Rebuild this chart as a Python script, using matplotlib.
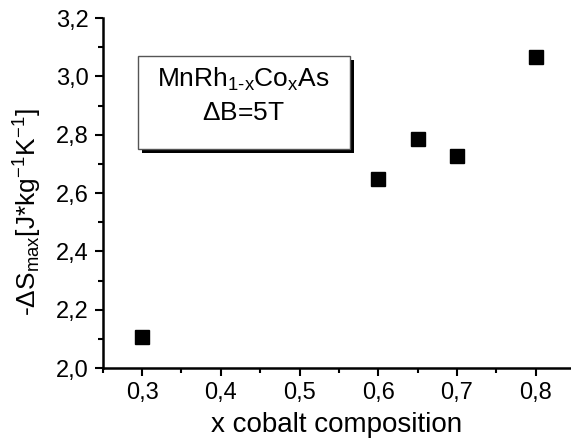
import matplotlib
matplotlib.use("Agg")
import matplotlib.pyplot as plt
from matplotlib.patches import Rectangle
from matplotlib.ticker import MultipleLocator, FuncFormatter

plt.rcParams['font.family'] = ['Liberation Sans', 'DejaVu Sans']
plt.rcParams['mathtext.fontset'] = 'custom'
plt.rcParams['mathtext.rm'] = 'Liberation Sans'
plt.rcParams['mathtext.it'] = 'Liberation Sans'
plt.rcParams['mathtext.bf'] = 'Liberation Sans'

# data
cobalt_x = [0.3, 0.6, 0.65, 0.7, 0.8]
delta_s_max = [2.105, 2.648, 2.787, 2.727, 3.067]

x_ticks = [0.3, 0.4, 0.5, 0.6, 0.7, 0.8]
y_ticks = [2.0, 2.2, 2.4, 2.6, 2.8, 3.0, 3.2]

fig = plt.figure(figsize=(5.71, 4.41), dpi=100)
ax = fig.add_axes([0.180, 0.1655, 0.820, 0.7935])

ax.plot(cobalt_x, delta_s_max, linestyle='none', marker='s', markersize=10.5,
        color='black')

ax.set_xlim(0.25, 0.845)
ax.set_ylim(2.0, 3.2)
ax.set_xticks(x_ticks)
ax.set_yticks(y_ticks)
ax.xaxis.set_minor_locator(MultipleLocator(0.05))
ax.yaxis.set_minor_locator(MultipleLocator(0.1))

comma = FuncFormatter(lambda v, p: ('%.1f' % v).replace('.', ','))
ax.xaxis.set_major_formatter(comma)
ax.yaxis.set_major_formatter(comma)

ax.spines['top'].set_visible(False)
ax.spines['right'].set_visible(False)
ax.spines['left'].set_linewidth(1.8)
ax.spines['bottom'].set_linewidth(1.8)
ax.tick_params(which='major', direction='out', length=6, width=1.5,
               labelsize=17, pad=4)
ax.tick_params(which='minor', direction='out', length=3.5, width=1.5)

ax.set_xlabel('x cobalt composition', fontsize=20, labelpad=6)
ax.set_ylabel(r'-$\Delta$S$_{max}$[J*kg$^{-1}$K$^{-1}$]', fontsize=19)
ax.yaxis.set_label_coords(-0.125, 0.445)

# label box with shadow
ax.add_patch(Rectangle((0.0835, 0.615), 0.453, 0.265, transform=ax.transAxes,
                       facecolor='black', edgecolor='none', zorder=3))
ax.add_patch(Rectangle((0.0748, 0.626), 0.453, 0.265, transform=ax.transAxes,
                       facecolor='white', edgecolor='#555555', linewidth=1.0,
                       zorder=4))
ax.text(0.30, 0.825, r'MnRh$_{1\mathrm{\text{-}}x}$Co$_x$As', transform=ax.transAxes,
        ha='center', va='center', fontsize=19, zorder=5)
ax.text(0.30, 0.728, r'$\Delta$B=5T', transform=ax.transAxes,
        ha='center', va='center', fontsize=19, zorder=5)

fig.savefig('out.png', dpi=100)
